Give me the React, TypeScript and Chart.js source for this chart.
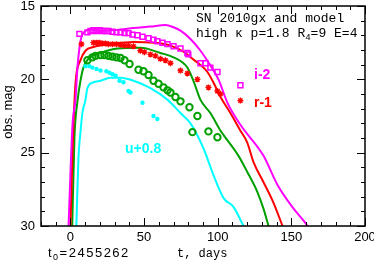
import React, { useEffect, useRef } from 'react';
import { Chart, registerables } from 'chart.js';
Chart.register(...registerables);

const MAG = '#ff00ff';
const RED = '#ff0000';
const GRN = '#00a000';
const CYN = '#00ffff';
const SANS = '"Liberation Sans", Arial, sans-serif';
const MONO = '"Liberation Mono", "DejaVu Sans Mono", monospace';

// x tick labels / y tick labels
const xMajor = [0, 50, 100, 150, 200];
const yMajor = [15, 20, 25, 30];

// model curves
const iModelT = [-1.3, 1.4, 3.4, 4.75, 6.8, 10.2, 13.6, 20.4, 34, 42.8, 54.3, 64.5, 70, 75, 81.5, 88.3, 95, 100.5, 106.6, 115.4, 131, 140.6, 151.4, 158, 161];
const iModelM = [30, 23.1, 21.4, 19.2, 17.4, 16.7, 16.6, 16.7, 16.6, 16.5, 16.4, 16.3, 16.45, 16.7, 17.25, 18.05, 19.05, 20.0, 21.6, 23.1, 25.2, 27.2, 28.8, 29.6, 30];
const rModelT = [0, 1.4, 3.4, 6.8, 10.2, 15.6, 27, 42.8, 56.4, 68, 78, 81.5, 88, 93, 97, 101.9, 108.6, 115.4, 120, 124.3, 131, 137.8, 144];
const rModelM = [30, 25, 20.3, 18.7, 18.05, 17.8, 17.6, 17.45, 17.5, 17.7, 18.2, 18.5, 19.0, 19.5, 20.2, 21.2, 22.3, 23.5, 24.3, 25.65, 27.0, 28.4, 30];
const gModelT = [1.2, 2.7, 4.75, 6.8, 8.8, 12.2, 20.4, 32, 47.5, 61, 70, 79.4, 83.5, 88.3, 95, 101.9, 104, 114, 120, 127, 131, 134.5];
const gModelM = [30, 24, 21.5, 20.1, 19.2, 18.6, 18.2, 17.9, 17.85, 18.2, 18.5, 19.2, 20.1, 21.4, 22.3, 23.5, 23.8, 25.2, 26.3, 27.7, 28.8, 30];
const uModelT = [4, 5.4, 6.8, 8.1, 10.2, 11.5, 15.6, 20.4, 27, 34, 42.8, 54.3, 66, 74.7, 81.5, 90.3, 97, 104, 110.7, 117.5];
const uModelM = [30, 25.4, 23.6, 22.3, 21.4, 20.6, 20.2, 20.1, 19.9, 19.9, 20.1, 20.6, 21.4, 22.3, 23.0, 24.7, 26.5, 28.1, 28.7, 30];

// observations
const iObsT = [6.1, 11.5, 13.6, 15.6, 17.7, 19.7, 21.7, 23.8, 25.8, 28.5, 31.2, 34, 36.7, 39.4, 42.1, 45.5, 48.9, 53, 56.4, 59, 62.5, 65.9, 70, 74.7, 79.4, 80, 88.3, 91.7, 95, 99.8, 115.4];
const iObsM = [16.9, 16.8, 16.7, 16.65, 16.7, 16.65, 16.7, 16.7, 16.7, 16.75, 16.8, 16.8, 16.85, 16.85, 16.95, 17.0, 17.1, 17.2, 17.3, 17.4, 17.5, 17.6, 17.75, 17.9, 18.2, 18.3, 18.9, 18.9, 19.2, 19.5, 20.4];
const rObsT = [7.5, 15.6, 17.7, 19.7, 21.7, 23.8, 25.8, 28.5, 31.2, 34, 36.7, 39.4, 42.8, 47.5, 50.2, 54.3, 57.7, 61.1, 64.5, 67.9, 74.7, 79.4, 86.2, 93.7, 99.8, 101.9, 115.4];
const rObsM = [17.6, 17.5, 17.5, 17.5, 17.55, 17.55, 17.6, 17.6, 17.6, 17.65, 17.7, 17.7, 17.75, 18.05, 18.15, 18.3, 18.4, 18.6, 18.7, 18.9, 19.4, 19.6, 20.0, 20.55, 20.8, 21.0, 21.45];
const gObsT = [11.5, 14.9, 17, 20.4, 23.1, 25.8, 28.5, 31.2, 34, 36.7, 40.1, 46.2, 49.6, 53, 56.4, 59.8, 63.2, 65.9, 67.9, 71.3, 74.7, 80.8, 86.2, 82.8, 93.7, 99.8];
const gObsM = [18.7, 18.5, 18.4, 18.35, 18.35, 18.4, 18.45, 18.5, 18.55, 18.7, 18.95, 19.35, 19.45, 19.7, 20.1, 20.3, 20.55, 20.75, 20.9, 21.2, 21.5, 21.9, 22.5, 23.6, 23.55, 23.95];
const uObsT = [10.2, 12.9, 14.9, 17.7, 20.4, 24.4, 26.5, 28.5, 30.6, 33.3, 36, 39.4, 40.7, 48.9, 56.4, 59];
const uObsM = [19.1, 19.1, 19.2, 19.3, 19.4, 19.45, 19.55, 19.65, 19.75, 20.1, 20.2, 20.8, 20.9, 21.6, 22.5, 22.7];

const pts = (t: number[], m: number[]) => t.map((x, k) => ({ x, y: m[k] }));

const framePlugin = {
  id: 'frame',
  afterDraw(chart: any) {
    const { ctx, chartArea: a, scales } = chart;
    ctx.save();
    ctx.strokeStyle = '#000';
    ctx.lineWidth = 1.5;
    ctx.strokeRect(a.left, a.top, a.right - a.left, a.bottom - a.top);
    ctx.lineWidth = 1;
    ctx.beginPath();
    scales.x.ticks.forEach((t: any) => {
      const p = Math.round(scales.x.getPixelForValue(t.value)) + 0.5;
      const len = xMajor.includes(t.value) ? 8 : 4;
      ctx.moveTo(p, a.bottom); ctx.lineTo(p, a.bottom - len);
      ctx.moveTo(p, a.top); ctx.lineTo(p, a.top + len);
    });
    scales.y.ticks.forEach((t: any) => {
      const p = Math.round(scales.y.getPixelForValue(t.value)) + 0.5;
      const len = yMajor.includes(t.value) ? 8 : 4;
      ctx.moveTo(a.left, p); ctx.lineTo(a.left + len, p);
      ctx.moveTo(a.right, p); ctx.lineTo(a.right - len, p);
    });
    ctx.stroke();

    // texts
    ctx.fillStyle = '#000';
    ctx.textBaseline = 'alphabetic';
    ctx.textAlign = 'left';
    ctx.font = `13px ${MONO}`;
    ctx.fillText('SN 2010gx and model', 196, 22);
    let x = 196;
    const l2a = 'high \u03ba p=1.8 R';
    ctx.fillText(l2a, x, 37);
    x += ctx.measureText(l2a).width;
    ctx.font = `9px ${MONO}`;
    ctx.fillText('4', x, 40);
    x += ctx.measureText('4').width;
    ctx.font = `13px ${MONO}`;
    ctx.fillText('=9 E=4', x, 37);

    ctx.font = `12px ${MONO}`;
    ctx.fillText('t, days', 177, 257);

    ctx.font = `13px ${SANS}`;
    (ctx as any).letterSpacing = '1.5px';
    x = 48;
    ctx.fillText('t', x, 257);
    x += ctx.measureText('t').width;
    ctx.font = `9px ${SANS}`;
    ctx.fillText('0', x, 260);
    x += ctx.measureText('0').width;
    ctx.font = `13px ${SANS}`;
    ctx.fillText('=2455262', x, 257);
    (ctx as any).letterSpacing = '0px';

    ctx.save();
    ctx.translate(12, 112);
    ctx.rotate(-Math.PI / 2);
    ctx.textAlign = 'center';
    ctx.font = `13px ${SANS}`;
    ctx.fillText('obs. mag', 0, 0);
    ctx.restore();

    ctx.font = `bold 14px ${SANS}`;
    ctx.textBaseline = 'middle';
    ctx.fillStyle = MAG;
    ctx.fillText('i-2', 254, 75);
    ctx.fillStyle = RED;
    ctx.fillText('r-1', 254, 103);
    ctx.fillStyle = CYN;
    ctx.fillText('u+0.8', 125, 149);
    ctx.restore();
  },
};

export default function App() {
  const ref = useRef<HTMLCanvasElement>(null);
  useEffect(() => {
    const lineDs = (t: number[], m: number[], c: string) => ({
      data: pts(t, m), showLine: true, pointRadius: 0, borderColor: c, borderWidth: 2,
      backgroundColor: c, cubicInterpolationMode: 'monotone' as const, fill: false,
    });
    const chart = new Chart(ref.current!, {
      type: 'scatter',
      data: {
        datasets: [
          { data: pts(iObsT, iObsM), pointStyle: 'rect', pointRadius: 3.5, borderColor: MAG, backgroundColor: 'rgba(0,0,0,0)', borderWidth: 1.5 },
          { data: pts(rObsT, rObsM), pointStyle: 'star', pointRadius: 3, borderColor: RED, backgroundColor: RED, borderWidth: 1.4 },
          { data: pts(gObsT, gObsM), pointStyle: 'circle', pointRadius: 3.2, borderColor: GRN, backgroundColor: 'rgba(0,0,0,0)', borderWidth: 2 },
          { data: pts(uObsT, uObsM), pointStyle: 'circle', pointRadius: 2.2, borderColor: CYN, backgroundColor: CYN, borderWidth: 0 },
          lineDs(iModelT, iModelM, MAG),
          lineDs(rModelT, rModelM, RED),
          lineDs(gModelT, gModelM, GRN),
          lineDs(uModelT, uModelM, CYN),
        ] as any,
      },
      options: {
        animation: false,
        responsive: false,
        events: [],
        layout: { padding: { top: 5, right: 9, left: 0, bottom: 0 } },
        plugins: { legend: { display: false }, tooltip: { enabled: false } },
        scales: {
          x: {
            type: 'linear', min: -20, max: 200,
            grid: { display: false, drawTicks: false },
            border: { display: false },
            ticks: {
              stepSize: 10, autoSkip: false, maxRotation: 0, padding: 4, color: '#000',
              font: { family: SANS, size: 13 },
              callback: (v: any) => (xMajor.includes(v) ? String(v) : ''),
            },
            afterFit: (s: any) => { s.height = 35; s.paddingLeft = 0; s.paddingRight = 0; },
          },
          y: {
            type: 'linear', min: 15, max: 30, reverse: true,
            grid: { display: false, drawTicks: false },
            border: { display: false },
            ticks: {
              stepSize: 1, autoSkip: false, padding: 6, color: '#000',
              font: { family: SANS, size: 13 },
              callback: (v: any) => (yMajor.includes(v) ? String(v) : ''),
            },
            afterFit: (s: any) => { s.width = 41; s.paddingTop = 0; s.paddingBottom = 0; },
          },
        },
      },
      plugins: [framePlugin],
    });
    return () => chart.destroy();
  }, []);
  return (
    <div style={{ position: 'fixed', left: 0, top: 0, width: 374, height: 261, background: '#fff' }}>
      <canvas ref={ref} width={374} height={261} style={{ width: 374, height: 261, display: 'block' }} />
    </div>
  );
}
